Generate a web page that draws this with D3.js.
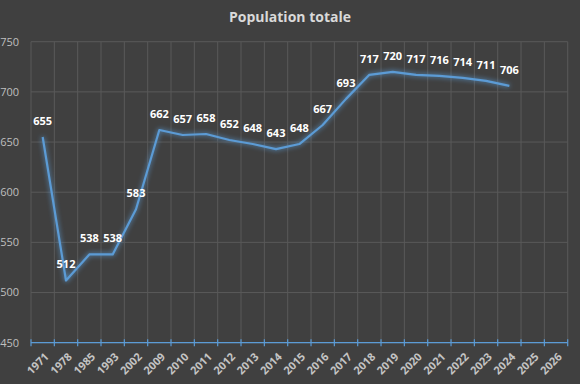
<!DOCTYPE html>
<html><head><meta charset="utf-8">
<script src="https://cdn.jsdelivr.net/npm/d3@7"></script>
<style>
html,body{margin:0;padding:0;background:#404040;}
svg{display:block;}
</style></head>
<body>
<svg id="chart" width="580" height="384"></svg>
<script>
const title = "Population totale";
const categories = ["1971","1978","1985","1993","2002","2009","2010","2011","2012","2013","2014","2015","2016","2017","2018","2019","2020","2021","2022","2023","2024","2025","2026"];
const values = [655,512,538,538,583,662,657,658,652,648,643,648,667,693,717,720,717,716,714,711,706,null,null];
const yTicks = [450,500,550,600,650,700,750];

const W = 580, H = 384;
const m = {left:31, right:12.3, top:41.7, bottom:41.3};
const svg = d3.select("#chart");
svg.append("rect").attr("width",W).attr("height",H).attr("fill","#404040");

const defs = svg.append("defs");
const f = defs.append("filter").attr("id","glow").attr("x","-20%").attr("y","-20%").attr("width","140%").attr("height","140%");
f.append("feGaussianBlur").attr("in","SourceGraphic").attr("stdDeviation",2.8).attr("result","b");
const mg = f.append("feMerge");
mg.append("feMergeNode").attr("in","b");
mg.append("feMergeNode").attr("in","SourceGraphic");

const x = d3.scaleBand().domain(categories).range([m.left, W-m.right]);
const y = d3.scaleLinear().domain([450,750]).range([H-m.bottom, m.top]);

// horizontal grid
svg.append("g").selectAll("line").data(yTicks).join("line")
  .attr("x1",m.left).attr("x2",W-m.right)
  .attr("y1",d=>y(d)).attr("y2",d=>y(d))
  .attr("stroke","#595959").attr("stroke-width",1);
// vertical grid at band boundaries
const bounds = categories.map(c=>x(c)).concat([W-m.right]);
svg.append("g").selectAll("line").data(bounds).join("line")
  .attr("x1",d=>d).attr("x2",d=>d)
  .attr("y1",m.top).attr("y2",H-m.bottom)
  .attr("stroke","#595959").attr("stroke-width",1);

// y axis labels
svg.append("g").selectAll("text").data(yTicks).join("text")
  .attr("x",m.left-12).attr("y",d=>y(d)).attr("dy","0.35em")
  .attr("text-anchor","end")
  .attr("font-family","'Open Sans', sans-serif").attr("font-size",11)
  .attr("fill","#bfbfbf").text(d=>d);

// x axis line with cross ticks
const ax = svg.append("g");
ax.append("line").attr("x1",m.left).attr("x2",W-m.right)
  .attr("y1",y(450)).attr("y2",y(450)).attr("stroke","#5b9bd5").attr("stroke-width",1.2);
ax.selectAll("line.t").data(bounds).join("line").attr("class","t")
  .attr("x1",d=>d).attr("x2",d=>d).attr("y1",y(450)-3.5).attr("y2",y(450)+3.5)
  .attr("stroke","#5b9bd5").attr("stroke-width",1.2);

// x labels
svg.append("g").selectAll("text").data(categories).join("text")
  .attr("transform",d=>`translate(${x(d)+x.bandwidth()/2+4},${y(450)+12}) rotate(-45)`)
  .attr("text-anchor","end").attr("dy","0.35em")
  .attr("font-family","'Open Sans', sans-serif").attr("font-size",11).attr("font-weight","bold")
  .attr("fill","#c4c4c4").text(d=>d);

// line
const pts = categories.map((c,i)=>({c, v:values[i]})).filter(d=>d.v!==null);
const line = d3.line().x(d=>x(d.c)+x.bandwidth()/2).y(d=>y(d.v));
svg.append("path").datum(pts).attr("d",line)
  .attr("fill","none").attr("stroke","#5b9bd5").attr("stroke-width",2.2)
  .attr("stroke-linejoin","round").attr("filter","url(#glow)");

// data labels
svg.append("g").selectAll("text").data(pts).join("text")
  .attr("x",d=>x(d.c)+x.bandwidth()/2).attr("y",d=>y(d.v)-12)
  .attr("text-anchor","middle")
  .attr("font-family","'Open Sans', sans-serif").attr("font-size",11).attr("font-weight","bold")
  .attr("fill","#ffffff").text(d=>d.v);

// title
svg.append("text").attr("x",290).attr("y",22).attr("text-anchor","middle")
  .attr("font-family","'Open Sans', sans-serif").attr("font-size",14).attr("font-weight","bold")
  .attr("fill","#d9d9d9").text(title);
</script>
</body></html>
